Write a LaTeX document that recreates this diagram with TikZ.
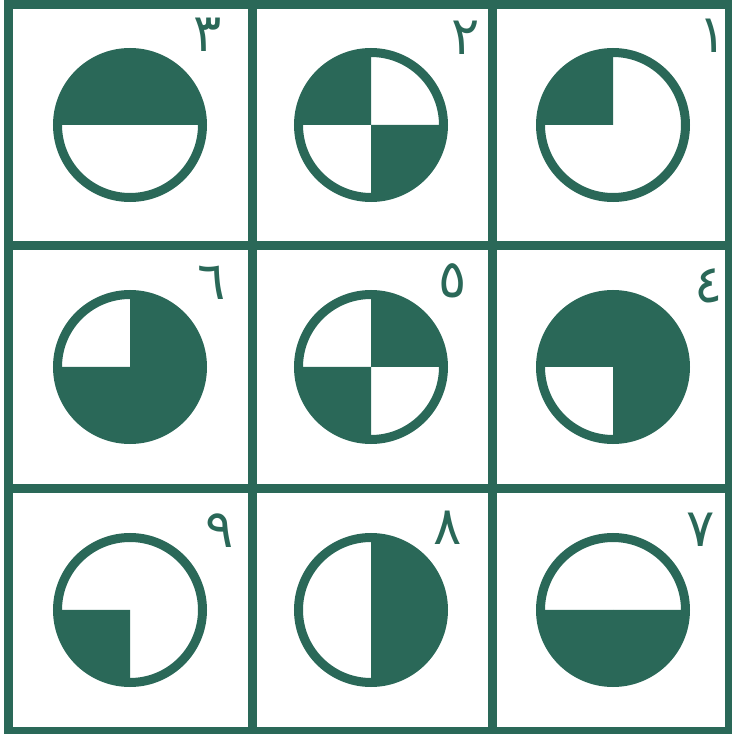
\documentclass[tikz,border=0pt]{standalone}
\usepackage{fontspec}
\newfontfamily\arabicfont[Script=Arabic]{DejaVu Sans}
\TeXXeTstate=1
\usetikzlibrary{positioning}
\definecolor{Ink}{HTML}{2A6858}
\tikzset{gridline/.style={draw=Ink,line width=0.18cm},ring/.style={circle,draw=Ink,line width=0.18cm,minimum size=2.90cm,inner sep=0pt},digit/.style={text=Ink,anchor=base,inner sep=0pt,font=\arabicfont\fontsize{30}{30}\selectfont}}

\begin{document}
\begin{tikzpicture}
      \useasboundingbox(0,0)rectangle(14.64,14.68);
      \fill[white](0,0)rectangle(14.64,14.68);
      \draw[gridline](0.18,0.06)rectangle(14.58,14.58);
      \draw[gridline](5.04,0.06)--(5.04,14.58);\draw[gridline](9.84,0.06)--(9.84,14.58);
      \draw[gridline](0.18,9.76)--(14.58,9.76);\draw[gridline](0.18,4.90)--(14.58,4.90);
      \foreach \d/\x/\y in {1/12.26/12.18,2/7.42/12.18,3/2.60/12.18,4/12.26/7.34,5/7.42/7.34,6/2.60/7.34,7/12.26/2.48,8/7.42/2.48,9/2.60/2.48}
        \node[ring](c\d)at(\x,\y){};
      \foreach \d/\a in {1/90,2/90,2/270,3/0,3/90,4/0,4/90,4/270,5/0,5/180,6/0,6/180,6/270,7/180,7/270,8/0,8/270,9/180}
        \fill[Ink](c\d.center)--++(\a:1.45)arc[start angle=\a,delta angle=90,radius=1.45cm]--cycle;
      \node[digit](n1)at(14.26,13.62){\beginR ١\endR};
      \node[digit](n2)at(9.32,13.58){\beginR ٢\endR};
      \node[digit](n3)at(4.16,13.64){\beginR ٣\endR};
      \node[digit](n4)at(14.18,8.62){\beginR ٤\endR};
      \node[digit](n5)at(9.06,8.72){\beginR ٥\endR};
      \node[digit](n6)at(4.24,8.68){\beginR ٦\endR};
      \node[digit](n7)at(14.02,3.74){\beginR ٧\endR};
      \node[digit](n8)at(8.96,3.78){\beginR ٨\endR};
      \node[digit](n9)at(4.40,3.72){\beginR ٩\endR};
    \end{tikzpicture}
\end{document}
